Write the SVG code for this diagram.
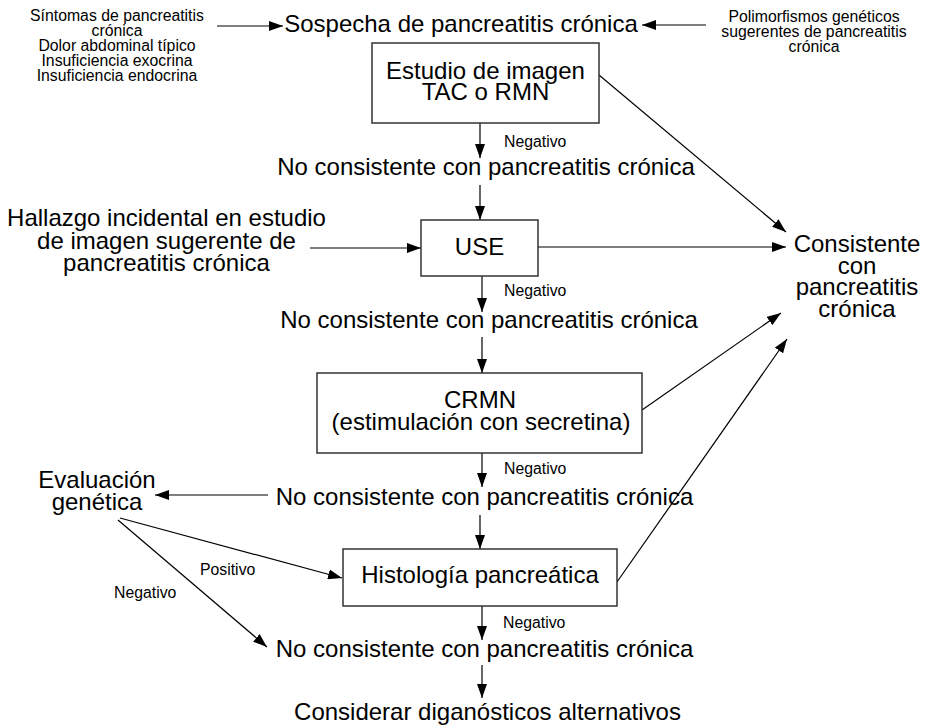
<svg xmlns="http://www.w3.org/2000/svg" width="928" height="727" viewBox="0 0 928 727">
  <style>
    text { font-family: "Liberation Sans", Arial, sans-serif; fill: #000; }
    .big { font-size: 24px; text-anchor: middle; }
    .small { font-size: 15.8px; text-anchor: middle; }
    .lbl { font-size: 15.8px; text-anchor: start; }
    .box { fill: #fff; stroke: #333; stroke-width: 1.5; }
    .conn line { stroke: #000; stroke-width: 1.2; marker-end: url(#arrow); }
  </style>
  <defs>
    <marker id="arrow" markerUnits="userSpaceOnUse" markerWidth="14" markerHeight="10" refX="14" refY="5" orient="auto">
      <path d="M0,0 L14,5 L0,10 z" fill="#000"/>
    </marker>
  </defs>
  <rect width="928" height="727" fill="#fff"/>

  <!-- connectors -->
  <g id="connectors" class="conn">
    <line x1="217" y1="26" x2="283" y2="26"/>
    <line x1="706" y1="25" x2="642" y2="25"/>
    <line x1="480" y1="123" x2="480" y2="158"/>
    <line x1="480" y1="185" x2="480" y2="220"/>
    <line x1="310" y1="248" x2="421" y2="248"/>
    <line x1="538" y1="247" x2="786" y2="247"/>
    <line x1="599" y1="75" x2="786" y2="232"/>
    <line x1="482" y1="276" x2="482" y2="312"/>
    <line x1="482" y1="337" x2="482" y2="373"/>
    <line x1="642" y1="410" x2="781" y2="313"/>
    <line x1="482" y1="453" x2="482" y2="487"/>
    <line x1="268" y1="495" x2="155" y2="495"/>
    <line x1="480" y1="515" x2="480" y2="549"/>
    <line x1="120" y1="518" x2="342" y2="578"/>
    <line x1="118" y1="520" x2="267" y2="647"/>
    <line x1="617" y1="582" x2="787" y2="339"/>
    <line x1="482" y1="606" x2="482" y2="640"/>
    <line x1="482" y1="665" x2="482" y2="698"/>
  </g>

  <!-- edge labels -->
  <g id="edge-labels">
    <text class="lbl" x="504" y="147">Negativo</text>
    <text class="lbl" x="504" y="296">Negativo</text>
    <text class="lbl" x="504" y="474">Negativo</text>
    <text class="lbl" x="503" y="628">Negativo</text>
    <text class="lbl" x="200" y="575">Positivo</text>
    <text class="lbl" x="114" y="598">Negativo</text>
  </g>

  <g id="sintomas">
    <text class="small" x="117" y="21">Síntomas de pancreatitis</text>
    <text class="small" x="117" y="36">crónica</text>
    <text class="small" x="117" y="51">Dolor abdominal típico</text>
    <text class="small" x="117" y="66">Insuficiencia exocrina</text>
    <text class="small" x="117" y="81">Insuficiencia endocrina</text>
  </g>

  <g id="sospecha">
    <text class="big" x="461" y="32">Sospecha de pancreatitis crónica</text>
  </g>

  <g id="polimorfismos">
    <text class="small" x="814" y="22">Polimorfismos genéticos</text>
    <text class="small" x="814" y="37">sugerentes de pancreatitis</text>
    <text class="small" x="814" y="52">crónica</text>
  </g>

  <g id="estudio-imagen">
    <rect class="box" x="372" y="43" width="227" height="80"/>
    <text class="big" x="485.5" y="79">Estudio de imagen</text>
    <text class="big" x="485.5" y="100">TAC o RMN</text>
  </g>

  <g id="no-consistente-1">
    <text class="big" x="486" y="175">No consistente con pancreatitis crónica</text>
  </g>

  <g id="hallazgo">
    <text class="big" x="166.5" y="226">Hallazgo incidental en estudio</text>
    <text class="big" x="166.5" y="248.5">de imagen sugerente de</text>
    <text class="big" x="166.5" y="270.5">pancreatitis crónica</text>
  </g>

  <g id="use">
    <rect class="box" x="421" y="220" width="117" height="56"/>
    <text class="big" x="479.5" y="255">USE</text>
  </g>

  <g id="consistente">
    <text class="big" x="857" y="252">Consistente</text>
    <text class="big" x="857" y="273.5">con</text>
    <text class="big" x="857" y="295">pancreatitis</text>
    <text class="big" x="857" y="316.5">crónica</text>
  </g>

  <g id="no-consistente-2">
    <text class="big" x="489" y="327.5">No consistente con pancreatitis crónica</text>
  </g>

  <g id="crmn">
    <rect class="box" x="317" y="373" width="325" height="80"/>
    <text class="big" x="480" y="408">CRMN</text>
    <text class="big" x="481" y="430">(estimulación con secretina)</text>
  </g>

  <g id="no-consistente-3">
    <text class="big" x="484.5" y="505">No consistente con pancreatitis crónica</text>
  </g>

  <g id="evaluacion-genetica">
    <text class="big" x="97" y="488">Evaluación</text>
    <text class="big" x="97" y="510">genética</text>
  </g>

  <g id="histologia">
    <rect class="box" x="343" y="549" width="274" height="57"/>
    <text class="big" x="480" y="583">Histología pancreática</text>
  </g>

  <g id="no-consistente-4">
    <text class="big" x="484.5" y="657">No consistente con pancreatitis crónica</text>
  </g>

  <g id="considerar">
    <text class="big" x="487.5" y="720">Considerar diganósticos alternativos</text>
  </g>
</svg>
